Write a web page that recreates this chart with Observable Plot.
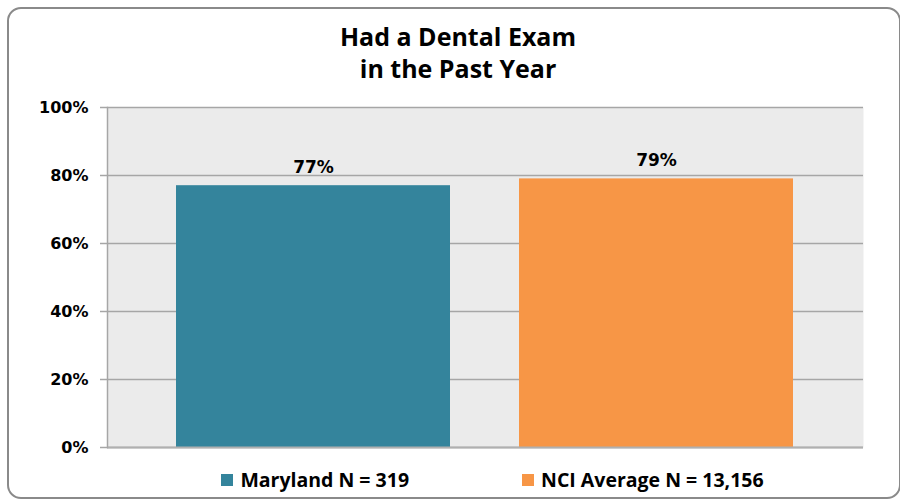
<!DOCTYPE html>
<html>
<head>
<meta charset="utf-8">
<script src="https://cdn.jsdelivr.net/npm/d3@7"></script>
<script src="https://cdn.jsdelivr.net/npm/@observablehq/plot@0.6"></script>
<style>
  html, body { margin: 0; padding: 0; background: #fff; }
  #wrap { position: relative; width: 900px; height: 503px; overflow: hidden; }
  #border { position: absolute; left: 7px; top: 7px; width: 890px; height: 488px;
            border: 2px solid #8a8a8a; border-radius: 14px; }
  #title { position: absolute; left: 0; top: 20px; width: 916px; text-align: center;
           font-family: "Open Sans", sans-serif; font-weight: bold; font-size: 25px;
           line-height: 32px; color: #000; }
  #chart { position: absolute; left: 0; top: 0; }
  #legend { position: absolute; left: 0; top: 466px; width: 985px; display: flex;
            justify-content: center; gap: 113px; font-family: "Open Sans", sans-serif;
            font-weight: bold; font-size: 19.5px; color: #000; }
  .item { display: flex; align-items: center; }
  .sw { width: 12px; height: 12px; margin-right: 7px; }
</style>
</head>
<body>
<div id="wrap">
  <div id="border"></div>
  <div id="chart"></div>
  <div id="title">Had a Dental Exam<br>in the Past Year</div>
  <div id="legend"></div>
</div>
<script>
const categories = ["Maryland", "NCI Average"];
const legendLabels = ["Maryland N = 319", "NCI Average N = 13,156"];
const values = [0.77, 0.79];
const valueLabels = ["77%", "79%"];
const colors = ["#34849c", "#f79646"];
const yTicks = [0, 0.2, 0.4, 0.6, 0.8, 1.0];

const data = categories.map((c, i) => ({category: c, value: values[i], label: valueLabels[i]}));

const plot = Plot.plot({
  width: 900,
  height: 503,
  marginLeft: 107,
  marginRight: 37,
  marginTop: 107,
  marginBottom: 56,
  style: {background: "transparent"},
  x: {domain: categories, paddingInner: 0.2, paddingOuter: 0.2, axis: null},
  y: {domain: [0, 1], axis: null},
  color: {domain: categories, range: colors},
  marks: [
    Plot.frame({fill: "#ebebeb", stroke: null}),
    Plot.gridY(yTicks, {stroke: "#a6a6a6", strokeOpacity: 1, strokeWidth: 1.5}),
    Plot.axisY({ticks: yTicks, tickSize: 7, stroke: "#a6a6a6", strokeWidth: 1.5, text: null, label: null}),
    Plot.axisY({ticks: yTicks, tickSize: 0, tickPadding: 19, tickFormat: d3.format(".0%"), label: null,
      fontFamily: "DejaVu Sans", fontWeight: "bold", fontSize: 16, fill: "#000"}),
    Plot.barY(data, {x: "category", y: "value", fill: "category"}),
    Plot.ruleY([0], {stroke: "#b0b0b0", strokeWidth: 2}),
    Plot.frame({anchor: "left", stroke: "#a6a6a6", strokeWidth: 1.5}),
    Plot.text(data, {x: "category", y: "value", text: "label", dy: -18,
      fontFamily: "DejaVu Sans", fontWeight: "bold", fontSize: 17, fill: "#000"})
  ]
});
document.getElementById("chart").appendChild(plot);

const legend = document.getElementById("legend");
categories.forEach((c, i) => {
  const item = document.createElement("div");
  item.className = "item";
  const sw = document.createElement("span");
  sw.className = "sw";
  sw.style.background = colors[i];
  const t = document.createElement("span");
  t.textContent = legendLabels[i];
  item.appendChild(sw);
  item.appendChild(t);
  legend.appendChild(item);
});
</script>
</body>
</html>
